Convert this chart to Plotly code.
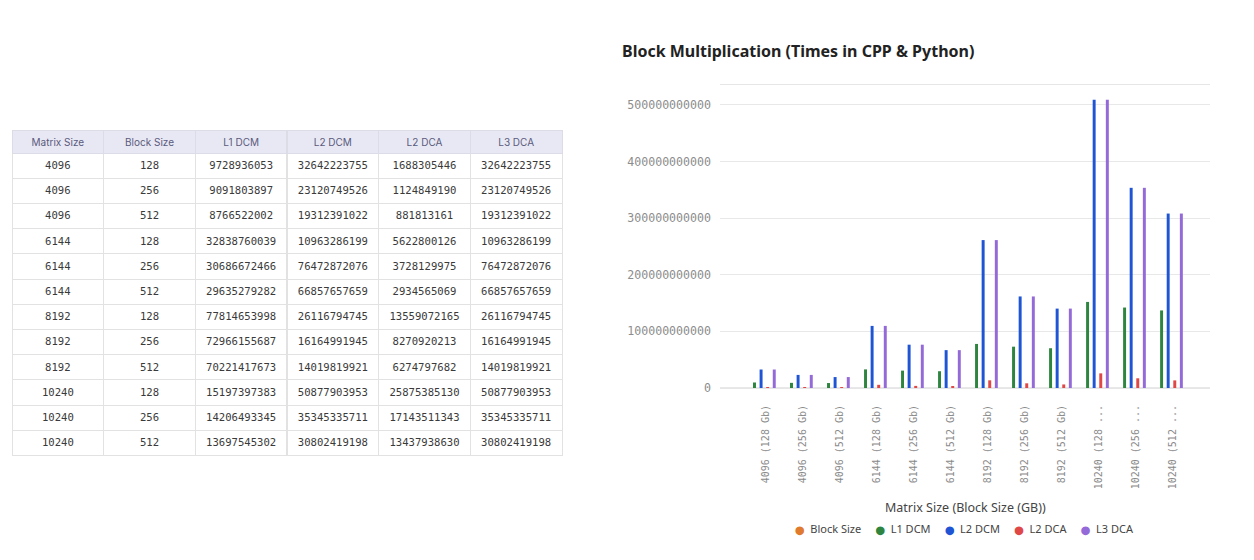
import plotly.graph_objects as go

# ---------------- data ----------------
matrix_size = [4096, 4096, 4096, 6144, 6144, 6144, 8192, 8192, 8192, 10240, 10240, 10240]
block_size = [128, 256, 512, 128, 256, 512, 128, 256, 512, 128, 256, 512]
l1_dcm = [9728936053, 9091803897, 8766522002, 32838760039, 30686672466, 29635279282,
          77814653998, 72966155687, 70221417673, 151973973830, 142064933450, 136975453020]
l2_dcm = [32642223755, 23120749526, 19312391022, 109632861990, 76472872076, 66857657659,
          261167947450, 161649919450, 140198199210, 508779039530, 353453357110, 308024191980]
l2_dca = [1688305446, 1124849190, 881813161, 5622800126, 3728129975, 2934565069,
          13559072165, 8270920213, 6274797682, 25875385130, 17143511343, 13437938630]
l3_dca = [32642223755, 23120749526, 19312391022, 109632861990, 76472872076, 66857657659,
          261167947450, 161649919450, 140198199210, 508779039530, 353453357110, 308024191980]

series_names = ["Block Size", "L1 DCM", "L2 DCM", "L2 DCA", "L3 DCA"]
series_values = [block_size, l1_dcm, l2_dcm, l2_dca, l3_dca]
colors = ["#e07a2c", "#2e8540", "#1f55d4", "#e04848", "#9469d8"]

W, H = 1254, 560


def px_x(p):
    return p / W


def px_y(p):
    return 1 - p / H


def cell_text(v):
    s = str(v)
    return s[:11]


def cat_label(m, b):
    s = f"{m} ({b} Gb)"
    return s if len(s) <= 13 else s[:10] + " ..."


categories = [cat_label(m, b) for m, b in zip(matrix_size, block_size)]

fig = go.Figure()

# ---------------- table ----------------
header = ["Matrix Size", "Block Size", "L1 DCM", "L2 DCM", "L2 DCA", "L3 DCA"]
cols = [
    [str(v) for v in matrix_size],
    [str(v) for v in block_size],
    [cell_text(v) for v in l1_dcm],
    [cell_text(v) for v in l2_dcm],
    [cell_text(v) for v in l2_dca],
    [cell_text(v) for v in l3_dca],
]
fig.add_trace(go.Table(
    domain=dict(x=[px_x(12), px_x(562)], y=[px_y(458), px_y(130)]),
    header=dict(values=header, fill_color="#e8e8f4", line_color="#dcdce6",
                font=dict(family="Inter, Noto Sans, sans-serif", size=10, color="#5a5a7c"),
                align="center", height=23),
    cells=dict(values=cols, fill_color="white", line_color="#e2e2e2",
               font=dict(family="DejaVu Sans Mono, monospace", size=10.6, color="#3a3a3a"),
               align="center", height=25.2),
))

# ---------------- bars ----------------
for name, vals, col in zip(series_names, series_values, colors):
    fig.add_trace(go.Bar(x=categories, y=vals, name=name, marker_color=col,
                         marker_line_width=0, showlegend=False))

# legend line (dot + name per series), built from the series lists
sp = "&nbsp;"
legend_text = (sp * 5).join(
    f"<span style='color:{c};font-family:DejaVu Sans;font-size:8.5px'>⬤</span>{sp * 2}{n}"
    for n, c in zip(series_names, colors)
)

fig.update_layout(
    width=W, height=H,
    margin=dict(l=0, r=0, t=0, b=0, autoexpand=False),
    paper_bgcolor="white", plot_bgcolor="white",
    barmode="group", bargap=0.11, bargroupgap=0.55,
    showlegend=False,
    xaxis=dict(domain=[px_x(720), px_x(1210)], range=[-1.11, 12.13],
               tickangle=-90, showgrid=False, showline=True, mirror=True,
               linecolor="#e6e6e6", linewidth=1, zeroline=False, automargin=False,
               tickfont=dict(family="DejaVu Sans Mono, monospace", size=10, color="#8a8a8a"),
               ticks="", ticklabelstandoff=12, ticklabelshift=5),
    yaxis=dict(domain=[px_y(388), px_y(85)], range=[0, 535e9], automargin=False,
               tick0=0, dtick=100e9, tickformat="d", showgrid=True, gridcolor="#e8e8e8",
               zeroline=True, zerolinecolor="#e8e8e8", showline=False,
               tickfont=dict(family="DejaVu Sans Mono, monospace", size=11.6, color="#8d8d8d"),
               ticks="", ticklabelstandoff=8),
    annotations=[
        dict(text="<b>Block Multiplication (Times in CPP & Python)</b>", xref="paper", yref="paper",
             x=px_x(620), y=px_y(51), xanchor="left", yanchor="middle", showarrow=False,
             font=dict(family="Noto Sans, sans-serif", size=16, color="#222")),
        dict(text="Matrix Size (Block Size (GB))", xref="paper", yref="paper",
             x=px_x(965), y=px_y(507), xanchor="center", yanchor="middle", showarrow=False,
             font=dict(family="Noto Sans, sans-serif", size=12.5, color="#444")),
        dict(text=legend_text, xref="paper", yref="paper",
             x=px_x(964), y=px_y(528), xanchor="center", yanchor="middle", showarrow=False,
             font=dict(family="Noto Sans, sans-serif", size=11, color="#444")),
    ],
)

fig.write_html("out.html")
